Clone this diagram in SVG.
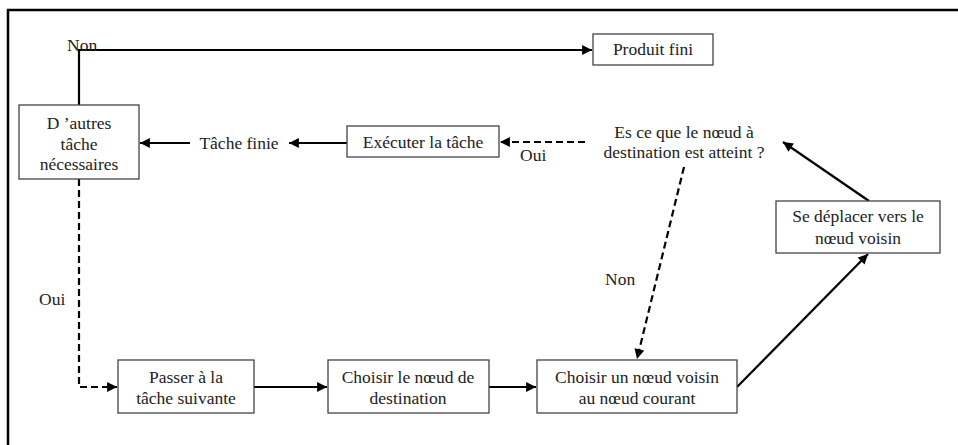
<svg xmlns="http://www.w3.org/2000/svg" width="958" height="445" viewBox="0 0 958 445">
<defs>
<style>
.box{fill:#fff;stroke:#444;stroke-width:1.3}
.t{font-family:"Liberation Serif","Times New Roman",serif;font-size:17.5px;fill:#222;text-anchor:middle}
.l{font-family:"Liberation Serif","Times New Roman",serif;font-size:17.5px;fill:#222}
.c{fill:none;stroke:#000;stroke-width:2.2}
.d{stroke-dasharray:7,4}
</style>
<marker id="ah" viewBox="0 0 10 10" refX="10" refY="5" markerWidth="5" markerHeight="4.5" markerUnits="strokeWidth" orient="auto">
<path d="M0,0 L10,5 L0,10 z" fill="#000"/>
</marker>
</defs>
<rect width="958" height="445" fill="#fff"/>
<path d="M8,445 V10 H958" fill="none" stroke="#000" stroke-width="2.5"/>
<g id="connectors">
<path class="c" d="M79,105 V50 H592" marker-end="url(#ah)"/>
<path class="c" d="M190,143 H140" marker-end="url(#ah)"/>
<path class="c" d="M347,143 H289" marker-end="url(#ah)"/>
<path class="c d" d="M585,142 H500" marker-end="url(#ah)"/>
<path class="c d" d="M79,179 V387 H117" marker-end="url(#ah)"/>
<path class="c" d="M254,387 H327" marker-end="url(#ah)"/>
<path class="c" d="M489,387 H536" marker-end="url(#ah)"/>
<path class="c d" d="M684,167 L637,359" marker-end="url(#ah)"/>
<path class="c" d="M737,387 L868,254" marker-end="url(#ah)"/>
<path class="c" d="M869,201 L783,142" marker-end="url(#ah)"/>
<text class="l" x="67" y="51">Non</text>
<text class="l" x="520" y="161">Oui</text>
<text class="l" x="39" y="305">Oui</text>
<text class="l" x="605" y="285">Non</text>
</g>
<g id="autres">
<rect class="box" x="19" y="105" width="120" height="74"/>
<text class="t" x="79" y="129">D ’autres</text>
<text class="t" x="79" y="150">tâche</text>
<text class="t" x="79" y="170">nécessaires</text>
</g>
<g id="produit">
<rect class="box" x="593" y="34" width="120" height="31"/>
<text class="t" x="653" y="55">Produit fini</text>
</g>
<g id="tachefinie">
<text class="t" x="239" y="149">Tâche finie</text>
</g>
<g id="executer">
<rect class="box" x="347" y="126" width="152" height="31"/>
<text class="t" x="423" y="148">Exécuter la tâche</text>
</g>
<g id="question">
<text class="t" x="684" y="138">Es ce que le nœud à</text>
<text class="t" x="684" y="158">destination est atteint ?</text>
</g>
<g id="deplacer">
<rect class="box" x="776" y="201" width="164" height="52"/>
<text class="t" x="858" y="222">Se déplacer vers le</text>
<text class="t" x="858" y="244">nœud voisin</text>
</g>
<g id="passer">
<rect class="box" x="118" y="360" width="136" height="53"/>
<text class="t" x="186" y="383">Passer à la</text>
<text class="t" x="186" y="404">tâche suivante</text>
</g>
<g id="choisirdest">
<rect class="box" x="328" y="360" width="161" height="53"/>
<text class="t" x="408" y="383">Choisir le nœud de</text>
<text class="t" x="408" y="404">destination</text>
</g>
<g id="choisirvoisin">
<rect class="box" x="537" y="360" width="200" height="53"/>
<text class="t" x="637" y="383">Choisir un nœud voisin</text>
<text class="t" x="637" y="404">au nœud courant</text>
</g>
</svg>
